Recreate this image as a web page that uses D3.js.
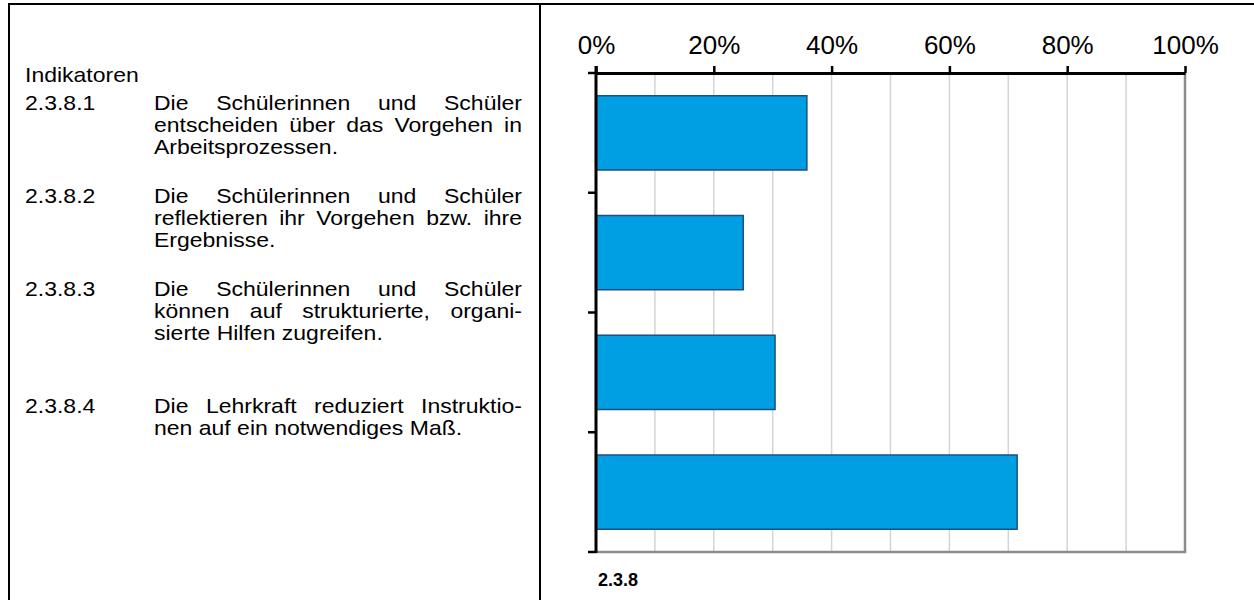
<!DOCTYPE html>
<html>
<head>
<meta charset="utf-8">
<script src="https://cdn.jsdelivr.net/npm/d3@7"></script>
<style>
  body { margin: 0; background: #fff; }
  svg { display: block; font-family: "Liberation Sans", Arial, sans-serif; }
</style>
</head>
<body>
<div id="chart"></div>
<script>
// Daten
var codes = ["2.3.8.1", "2.3.8.2", "2.3.8.3", "2.3.8.4"]
var values = [0.358, 0.25, 0.304, 0.715]
var tickValues = [0, 0.2, 0.4, 0.6, 0.8, 1]
var gridValues = [0.1, 0.2, 0.3, 0.4, 0.5, 0.6, 0.7, 0.8, 0.9]
var groupLabel = "2.3.8"
var header = "Indikatoren"
// Zeilen der Indikatortexte (letzte Zeile jeweils linksbündig)
var texts = [
    ["Die Schülerinnen und Schüler", "entscheiden über das Vorgehen in", "Arbeitsprozessen."],
    ["Die Schülerinnen und Schüler", "reflektieren ihr Vorgehen bzw. ihre", "Ergebnisse."],
    ["Die Schülerinnen und Schüler", "können auf strukturierte, organi-", "sierte Hilfen zugreifen."],
    ["Die Lehrkraft reduziert Instruktio-", "nen auf ein notwendiges Maß."]
]

var W = 1254, H = 600
var svg = d3.select("#chart").append("svg")
    .attr("width", W)
    .attr("height", H)

// Rahmen
svg.append("rect")
    .attr("x", 9).attr("y", 4)
    .attr("width", W + 10).attr("height", H + 10)
    .attr("fill", "none").attr("stroke", "#000").attr("stroke-width", 2)

svg.append("line")
    .attr("x1", 540).attr("x2", 540)
    .attr("y1", 4).attr("y2", H)
    .attr("stroke", "#000").attr("stroke-width", 2)

// linke Seite: Texte (Schrift im Original etwas breit gezogen)
var textSize = 20
var sx = 1.15
var lineH = 22
var numX = 25, textX = 154, textRight = 522
var blockY = [110, 203, 296, 413]

var left = svg.append("g")
    .attr("transform", "scale(" + sx + ",1)")

left.append("text")
    .attr("x", numX / sx).attr("y", 82)
    .style("font-size", textSize + "px")
    .text(header)

// Blocksatz: Wörter einzeln setzen
function justifyLine(g, line, y, justify) {
    var words = line.split(" ")
    var nodes = words.map(function (w) {
        return g.append("text")
            .attr("y", y)
            .style("font-size", textSize + "px")
            .text(w)
    })
    var widths = nodes.map(function (n) { return n.node().getComputedTextLength() })
    var total = d3.sum(widths)
    var space = textSize * 0.278
    if (justify && words.length > 1)
        space = ((textRight - textX) / sx - total) / (words.length - 1)
    var xx = textX / sx
    nodes.forEach(function (n, i) {
        n.attr("x", xx)
        xx += widths[i] + space
    })
}

codes.forEach(function (c, i) {
    left.append("text")
        .attr("x", numX / sx).attr("y", blockY[i])
        .style("font-size", textSize + "px")
        .text(c)
    texts[i].forEach(function (line, j) {
        justifyLine(left, line, blockY[i] + j * lineH, j < texts[i].length - 1)
    })
})

// rechte Seite: Balken
var x0 = 596, x1 = 1185, yTop = 73, yBot = 552

var x = d3.scaleLinear()
    .domain([0, 1])
    .range([x0, x1])

var y = d3.scaleBand()
    .domain(codes)
    .range([yTop, yBot])
    .paddingInner(0.38)
    .paddingOuter(0.19)

// Gitterlinien
svg.append("g")
    .selectAll("line")
    .data(gridValues)
    .enter().append("line")
    .attr("x1", function (d) { return x(d) })
    .attr("x2", function (d) { return x(d) })
    .attr("y1", yTop).attr("y2", yBot)
    .attr("stroke", "#d4d4d4").attr("stroke-width", 1.5)

// rechter und unterer Rand grau
svg.append("line")
    .attr("x1", x(1)).attr("x2", x(1))
    .attr("y1", yTop).attr("y2", yBot)
    .attr("stroke", "#8c8c8c").attr("stroke-width", 2.5)
svg.append("line")
    .attr("x1", x0).attr("x2", x(1) + 1.25)
    .attr("y1", yBot).attr("y2", yBot)
    .attr("stroke", "#8c8c8c").attr("stroke-width", 2.5)

svg.append("g")
    .selectAll("rect")
    .data(values)
    .enter().append("rect")
    .attr("x", x(0))
    .attr("y", function (d, i) { return y(codes[i]) })
    .attr("width", function (d) { return x(d) - x(0) })
    .attr("height", y.bandwidth())
    .attr("fill", "#009fe3")
    .attr("stroke", "#1c4f85")
    .attr("stroke-width", 1.5)

// obere Achse
var xAxis = d3.axisTop(x)
    .tickValues(tickValues)
    .tickFormat(d3.format(".0%"))
    .tickSize(7)
    .tickSizeOuter(0)
    .tickPadding(12)

var ax = svg.append("g")
    .attr("transform", "translate(0," + yTop + ")")
    .call(xAxis)
ax.select(".domain").attr("stroke-width", 3)
ax.selectAll(".tick line").attr("stroke-width", 2.5)
ax.selectAll(".tick text")
    .style("font-family", "Liberation Sans, Arial, sans-serif")
    .style("font-size", "26px")
    .attr("fill", "#000")

// linke Achse mit Ticks an den Kategoriegrenzen
var yTicks = codes.map(function (c) { return y(c) - y.step() * y.paddingInner() / 2 })
yTicks.push(yBot)
svg.append("line")
    .attr("x1", x0).attr("x2", x0)
    .attr("y1", yTop - 7).attr("y2", yBot + 1)
    .attr("stroke", "#000").attr("stroke-width", 3)
svg.append("g")
    .selectAll("line")
    .data(yTicks)
    .enter().append("line")
    .attr("x1", x0 - 8).attr("x2", x0)
    .attr("y1", function (d) { return d })
    .attr("y2", function (d) { return d })
    .attr("stroke", "#000").attr("stroke-width", 2.5)

svg.append("text")
    .attr("x", x0 + 2).attr("y", 586)
    .style("font-size", "18px")
    .style("font-weight", "bold")
    .text(groupLabel)
</script>
</body>
</html>
